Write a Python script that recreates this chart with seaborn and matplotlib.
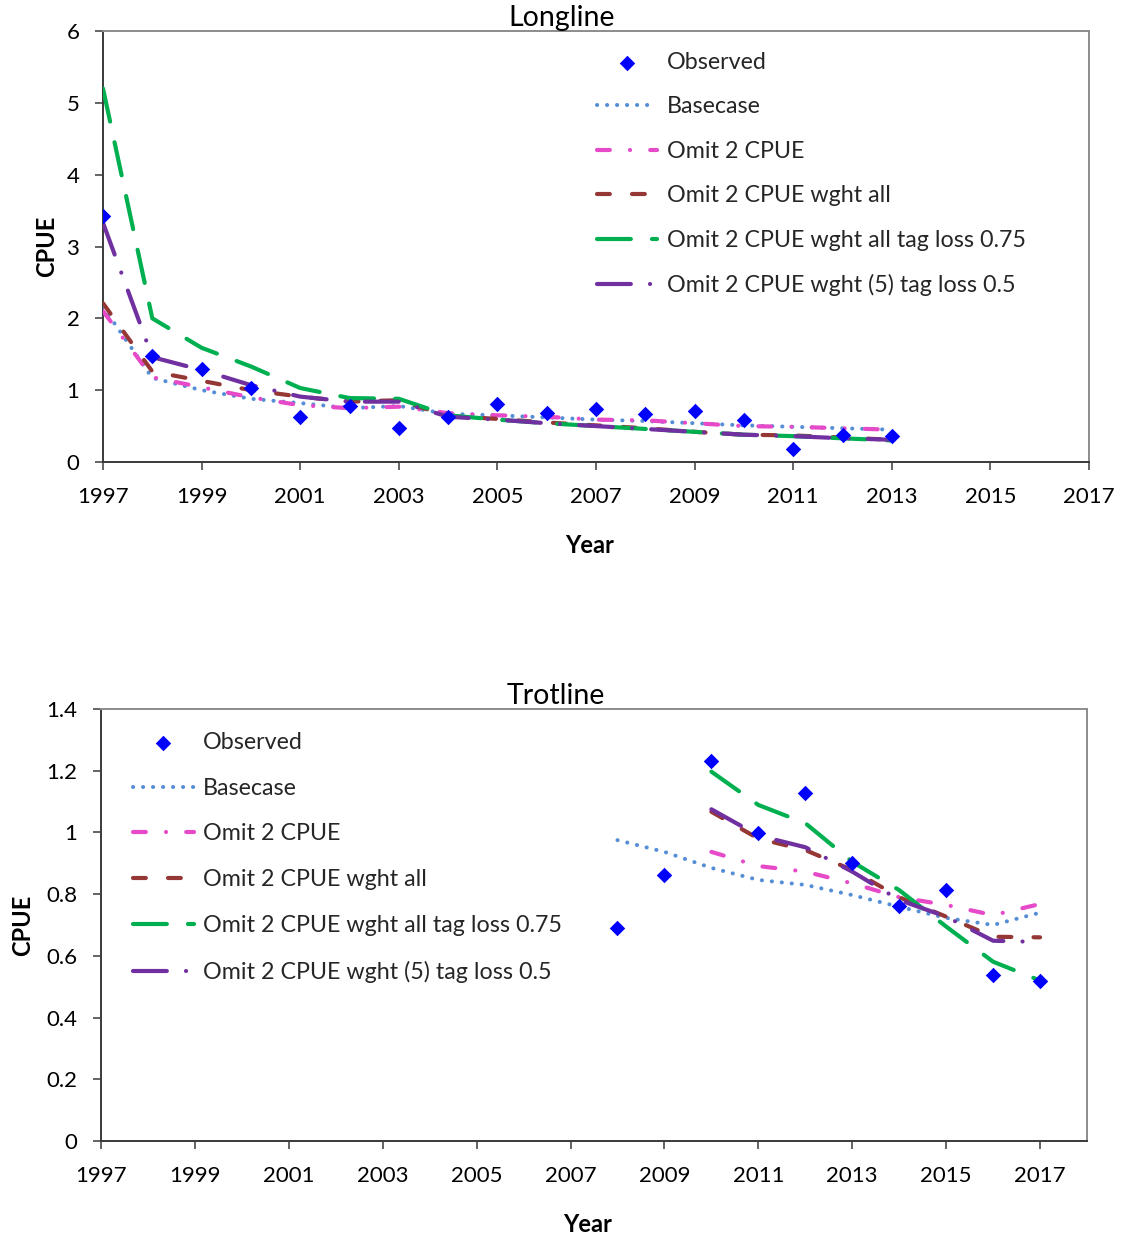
import matplotlib
matplotlib.use("Agg")
import matplotlib.pyplot as plt
import seaborn as sns
from matplotlib.ticker import FixedLocator, FuncFormatter

# ---------------- data ----------------
ll_years = list(range(1997, 2014))
ll_observed = [3.43, 1.48, 1.30, 1.03, 0.63, 0.78, 0.47, 0.63, 0.81, 0.68, 0.74, 0.67, 0.71, 0.58, 0.18, 0.38, 0.36]
ll_basecase = [2.16, 1.17, 1.00, 0.88, 0.82, 0.75, 0.78, 0.67, 0.65, 0.62, 0.59, 0.57, 0.54, 0.51, 0.49, 0.47, 0.45]
ll_omit2 = [2.10, 1.18, 1.04, 0.90, 0.79, 0.75, 0.77, 0.68, 0.65, 0.63, 0.59, 0.58, 0.54, 0.50, 0.49, 0.47, 0.45]
ll_wght_all = [2.21, 1.26, 1.13, 1.00, 0.91, 0.84, 0.86, 0.64, 0.60, 0.55, 0.51, 0.47, 0.42, 0.38, 0.37, 0.34, 0.31]
ll_tag075 = [5.20, 2.00, 1.59, 1.33, 1.03, 0.89, 0.88, 0.65, 0.59, 0.54, 0.50, 0.46, 0.42, 0.38, 0.36, 0.33, 0.30]
ll_tag05 = [3.33, 1.46, 1.28, 1.07, 0.91, 0.84, 0.84, 0.63, 0.59, 0.54, 0.50, 0.46, 0.42, 0.38, 0.36, 0.33, 0.31]

tl_obs_years = list(range(2008, 2018))
tl_observed = [0.69, 0.862, 1.231, 0.998, 1.128, 0.90, 0.76, 0.813, 0.538, 0.52]
tl_base_years = list(range(2008, 2018))
tl_basecase = [0.975, 0.937, 0.885, 0.846, 0.83, 0.797, 0.759, 0.723, 0.70, 0.74]
tl_model_years = list(range(2010, 2018))
tl_omit2 = [0.937, 0.891, 0.873, 0.835, 0.79, 0.765, 0.732, 0.768]
tl_wght_all = [1.067, 0.98, 0.943, 0.878, 0.79, 0.727, 0.662, 0.66]
tl_tag075 = [1.197, 1.089, 1.03, 0.905, 0.813, 0.695, 0.581, 0.52]
tl_tag05 = [1.075, 0.99, 0.952, 0.873, 0.781, 0.727, 0.649, 0.645]

observed_label = "Observed"
series_labels = ["Basecase", "Omit 2 CPUE", "Omit 2 CPUE wght all",
                 "Omit 2 CPUE wght all tag loss 0.75", "Omit 2 CPUE wght (5) tag loss 0.5"]
panel_titles = ["Longline", "Trotline"]
x_label = "Year"
y_label = "CPUE"
ll_xticks = list(range(1997, 2018, 2))
ll_yticks = [0, 1, 2, 3, 4, 5, 6]
tl_xticks = list(range(1997, 2018, 2))
tl_yticks = [0, 0.2, 0.4, 0.6, 0.8, 1.0, 1.2, 1.4]

# ---------------- styles ----------------
LW = 3.0


def dash_pattern(visible_px, lw=LW):
    """visible on/off lengths in pixels -> matplotlib dash seq (round caps, scaled by lw)."""
    seq = []
    for i, v in enumerate(visible_px):
        pt = v * 0.72
        if i % 2 == 0:
            seq.append(max(pt - lw, 0.05) / lw)
        else:
            seq.append((pt + lw) / lw)
    return (0, tuple(seq))


styles = [
    dict(color="#558ED5", lw=2.9, pattern=[4.2, 5.8]),
    dict(color="#E64AC8", lw=LW, pattern=[17, 16, 4.2, 16]),
    dict(color="#953735", lw=LW, pattern=[17, 18]),
    dict(color="#00B050", lw=LW, pattern=[38, 17]),
    dict(color="#7030A0", lw=LW, pattern=[38, 15, 4.2, 15]),
]
obs_color = "#0000FF"

sns.set_theme(style="ticks")
plt.rcParams["font.family"] = ["Lato", "DejaVu Sans"]

W, H = 1122, 1236
fig = plt.figure(figsize=(W / 100, H / 100), dpi=100)
ax1 = fig.add_axes([103 / W, 1 - 462 / H, 986 / W, 431 / H])
ax2 = fig.add_axes([101 / W, 1 - 1141 / H, 986 / W, 432 / H])


def draw_panel(ax, obs_x, obs_y, series):
    for (x, y), lab, st in zip(series, series_labels, styles):
        sns.lineplot(x=x, y=y, ax=ax, color=st["color"], linewidth=st["lw"],
                     linestyle=dash_pattern(st["pattern"], st["lw"]),
                     dash_capstyle="round", solid_capstyle="round", label=lab, zorder=3)
    sns.scatterplot(x=obs_x, y=obs_y, ax=ax, marker="D", s=62, color=obs_color,
                    edgecolor=obs_color, linewidth=0, zorder=10, label=observed_label)


draw_panel(ax1, ll_years, ll_observed,
           [(ll_years, ll_basecase), (ll_years, ll_omit2), (ll_years, ll_wght_all),
            (ll_years, ll_tag075), (ll_years, ll_tag05)])
draw_panel(ax2, tl_obs_years, tl_observed,
           [(tl_base_years, tl_basecase), (tl_model_years, tl_omit2), (tl_model_years, tl_wght_all),
            (tl_model_years, tl_tag075), (tl_model_years, tl_tag05)])


def fmt(v, _):
    return f"{v:g}"


for ax, xlim, ylim, xt, yt, title, tx, legpos, lspace, ylx, xpad, xly in [
    (ax1, (1997, 2017), (0, 6), ll_xticks, ll_yticks, panel_titles[0], 0.4655, (0.501, 0.952), 1.01, -0.046, 12, -0.168),
    (ax2, (1997, 2018), (0, 1.4), tl_xticks, tl_yticks, panel_titles[1], 0.4615, (0.0325, 0.947), 1.065, -0.068, 12, -0.166),
]:
    ax.set_xlim(*xlim)
    ax.set_ylim(*ylim)
    ax.xaxis.set_major_locator(FixedLocator(xt))
    ax.yaxis.set_major_locator(FixedLocator(yt))
    ax.yaxis.set_major_formatter(FuncFormatter(fmt))
    ax.xaxis.set_major_formatter(FuncFormatter(lambda v, _: f"{int(v)}"))
    for side in ["top", "right"]:
        ax.spines[side].set_visible(True)
        ax.spines[side].set_color("#8C8C8C")
        ax.spines[side].set_linewidth(1.4)
    for side in ["left", "bottom"]:
        ax.spines[side].set_color("#3A3A3A")
        ax.spines[side].set_linewidth(1.4)
    ax.tick_params(axis="both", direction="out", length=6, width=1.1, color="#3A3A3A",
                   labelsize=16, labelcolor="black", top=False, right=False)
    ax.tick_params(axis="x", pad=xpad)
    ax.tick_params(axis="y", pad=11)
    ax.set_title(title, fontsize=20.5, x=tx, pad=1.5, color="black")
    ax.set_xlabel(x_label, fontsize=17, fontweight="bold", color="black")
    ax.set_ylabel(y_label, fontsize=17, fontweight="bold", color="black")
    ax.yaxis.set_label_coords(ylx, 0.5)
    ax.xaxis.set_label_coords(0.493, xly)
    ax.set_facecolor("white")

    handles, labels = ax.get_legend_handles_labels()
    order = [labels.index(observed_label)] + [labels.index(l) for l in series_labels]
    ax.legend([handles[i] for i in order], [labels[i] for i in order],
              loc="upper left", bbox_to_anchor=legpos, frameon=False, fontsize=16.75,
              handlelength=2.6, handletextpad=0.42, labelspacing=lspace,
              borderpad=0, borderaxespad=0, numpoints=1, scatterpoints=1)

fig.savefig("out.png", dpi=100, facecolor="white")
